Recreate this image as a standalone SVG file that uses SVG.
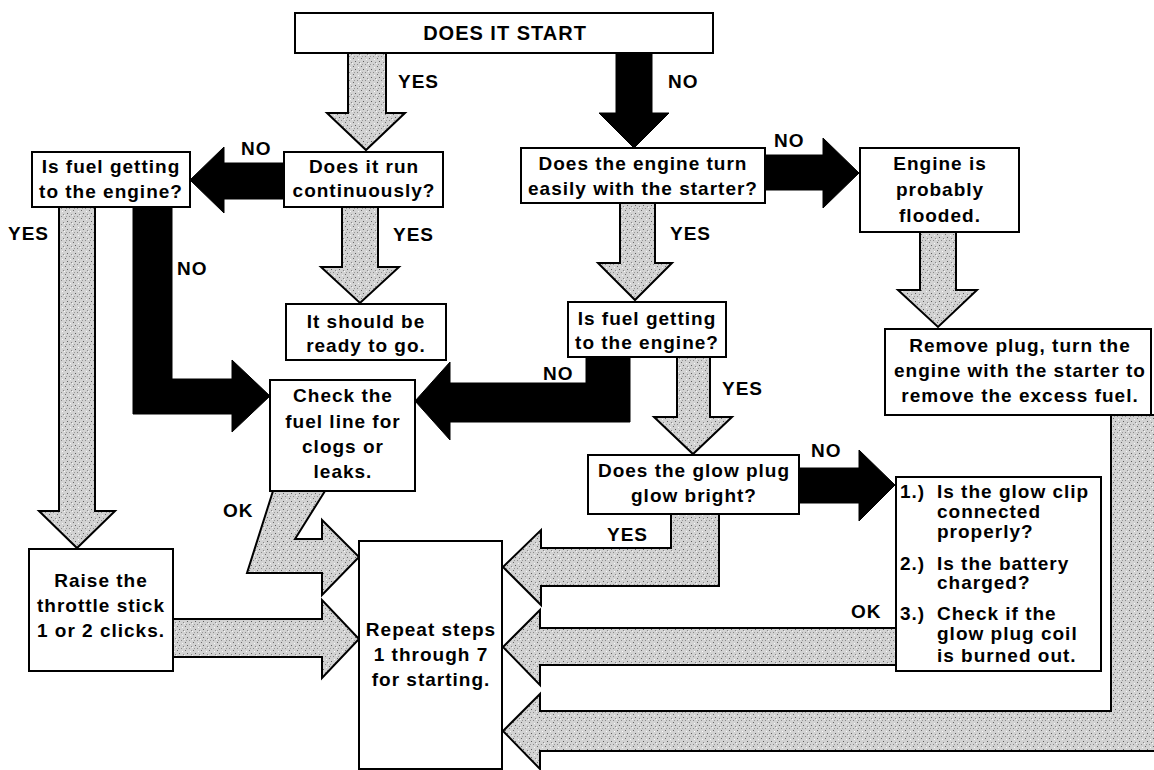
<svg xmlns="http://www.w3.org/2000/svg" width="1154" height="770" viewBox="0 0 1154 770">
<style>
.box{fill:#fff;stroke:#000;stroke-width:2}
.t{font-family:"Liberation Sans",Arial,sans-serif;font-weight:bold;font-size:19px;letter-spacing:1px;fill:#000}
.c{text-anchor:middle}
.blk{fill:#000;stroke:#000;stroke-width:1}
.gry{fill:url(#stip);stroke:#000;stroke-width:2;stroke-linejoin:miter}
</style>
<defs>
<pattern id="stip" width="8" height="8" patternUnits="userSpaceOnUse">
<rect width="8" height="8" fill="#d2d2d2"/>
<rect x="1" y="2" width="1" height="1" fill="#6a6a6a"/>
<rect x="5" y="0" width="1" height="1" fill="#8a8a8a"/>
<rect x="3" y="5" width="1" height="1" fill="#5e5e5e"/>
<rect x="7" y="6" width="1" height="1" fill="#888"/>
<rect x="6" y="3" width="1" height="1" fill="#fafafa"/>
<rect x="0" y="7" width="1" height="1" fill="#f4f4f4"/>
<rect x="2" y="0" width="1" height="1" fill="#9a9a9a"/>
</pattern>
</defs>
<rect width="1154" height="770" fill="#fff"/>

<g id="connectors">
<!-- YES from start -->
<polygon class="gry" points="348,53 386,53 386,113 405,113 366,150 327,113 348,113"/>
<!-- NO from start -->
<polygon class="blk" points="616,53 652,53 652,113 669,113 634,148 599,113 616,113"/>
<!-- NO run -> fuel left -->
<polygon class="blk" points="284,163 224,163 224,147 190,180 224,213 224,199 284,199"/>
<!-- YES run -> ready -->
<polygon class="gry" points="342,207 378,207 378,267 399,267 360,303 321,267 342,267"/>
<!-- YES fuel left -> raise -->
<polygon class="gry" points="59,207 95,207 95,511 115,511 77,548 39,511 59,511"/>
<!-- NO fuel left -> check -->
<polygon class="blk" points="133,207 172,207 172,379 232,379 232,360 270,396 232,432 232,414 133,414"/>
<!-- NO engine -> flooded -->
<polygon class="blk" points="765,155 823,155 823,138 859,173 823,208 823,190 765,190"/>
<!-- YES engine -> fuel mid -->
<polygon class="gry" points="620,203 655,203 655,263 672,263 635,300 598,263 620,263"/>
<!-- flooded -> remove -->
<polygon class="gry" points="920,232 956,232 956,290 977,290 938,327 898,290 920,290"/>
<!-- NO fuel mid -> check -->
<polygon class="blk" points="586,357 630,357 630,422 450,422 450,440 415,401 450,362 450,383 586,383"/>
<!-- YES fuel mid -> glow -->
<polygon class="gry" points="677,357 710,357 710,417 732,417 693,454 654,417 677,417"/>
<!-- NO glow -> checklist -->
<polygon class="blk" points="799,468 859,468 859,450 895,485 859,521 859,503 799,503"/>
<!-- YES glow -> repeat -->
<polygon class="gry" points="671,514 719,514 719,586 541,586 541,605 503,567 541,530 541,548 671,548"/>
<!-- OK checklist -> repeat -->
<polygon class="gry" points="896,628 896,665 540,665 540,685 503,647 540,610 540,628"/>
<!-- remove -> repeat (bottom pipe) -->
<polygon class="gry" points="1111,415 1160,415 1160,751 540,751 540,769 503,731 540,694 540,711 1111,711"/>
<!-- raise -> repeat -->
<polygon class="gry" points="173,619 322,619 322,600 359,639 322,678 322,657 173,657"/>
<!-- OK check -> repeat -->
<polygon class="gry" points="273,491 325,491 295,539 322,539 322,520 359,557 322,595 322,573 247,573"/>
<text class="t" x="398" y="88">YES</text>
<text class="t" x="668" y="88">NO</text>
<text class="t" x="241" y="155">NO</text>
<text class="t" x="774" y="147">NO</text>
<text class="t" x="8" y="240">YES</text>
<text class="t" x="393" y="241">YES</text>
<text class="t" x="670" y="240">YES</text>
<text class="t" x="177" y="275">NO</text>
<text class="t" x="543" y="380">NO</text>
<text class="t" x="722" y="395">YES</text>
<text class="t" x="811" y="457">NO</text>
<text class="t" x="223" y="517">OK</text>
<text class="t" x="607" y="541">YES</text>
<text class="t" x="851" y="618">OK</text>
</g>

<g id="start">
<rect class="box" x="295" y="13" width="418" height="40"/>
<text class="t c" x="505" y="40" style="font-size:20px">DOES IT START</text>
</g>
<g id="run">
<rect class="box" x="284" y="152" width="159" height="55"/>
<text class="t c" x="364" y="173">Does it run</text>
<text class="t c" x="364" y="197">continuously?</text>
</g>
<g id="fuel-left">
<rect class="box" x="32" y="152" width="158" height="55"/>
<text class="t c" x="111" y="173">Is fuel getting</text>
<text class="t c" x="111" y="198">to the engine?</text>
</g>
<g id="ready">
<rect class="box" x="286" y="304" width="160" height="56"/>
<text class="t c" x="366" y="328">It should be</text>
<text class="t c" x="366" y="352">ready to go.</text>
</g>
<g id="engine">
<rect class="box" x="521" y="148" width="244" height="55"/>
<text class="t c" x="643" y="170">Does the engine turn</text>
<text class="t c" x="643" y="195">easily with the starter?</text>
</g>
<g id="flooded">
<rect class="box" x="860" y="148" width="159" height="84"/>
<text class="t c" x="940" y="170">Engine is</text>
<text class="t c" x="940" y="196">probably</text>
<text class="t c" x="940" y="222">flooded.</text>
</g>
<g id="fuel-mid">
<rect class="box" x="568" y="302" width="158" height="55"/>
<text class="t c" x="647" y="325">Is fuel getting</text>
<text class="t c" x="647" y="349">to the engine?</text>
</g>
<g id="remove">
<rect class="box" x="885" y="329" width="266" height="86"/>
<text class="t c" x="1020" y="352">Remove plug, turn the</text>
<text class="t c" x="1020" y="377">engine with the starter to</text>
<text class="t c" x="1020" y="402">remove the excess fuel.</text>
</g>
<g id="check">
<rect class="box" x="270" y="380" width="145" height="111"/>
<text class="t c" x="343" y="402">Check the</text>
<text class="t c" x="343" y="428">fuel line for</text>
<text class="t c" x="343" y="453">clogs or</text>
<text class="t c" x="343" y="478">leaks.</text>
</g>
<g id="glow">
<rect class="box" x="588" y="455" width="211" height="59"/>
<text class="t c" x="694" y="477">Does the glow plug</text>
<text class="t c" x="694" y="502">glow bright?</text>
</g>
<g id="checklist">
<rect class="box" x="896" y="477" width="205" height="194"/>
<text class="t" x="900" y="498">1.)</text>
<text class="t" x="937" y="498">Is the glow clip</text>
<text class="t" x="937" y="518">connected</text>
<text class="t" x="937" y="538">properly?</text>
<text class="t" x="900" y="570">2.)</text>
<text class="t" x="937" y="570">Is the battery</text>
<text class="t" x="937" y="589">charged?</text>
<text class="t" x="900" y="620">3.)</text>
<text class="t" x="937" y="620">Check if the</text>
<text class="t" x="937" y="640">glow plug coil</text>
<text class="t" x="937" y="662">is burned out.</text>
</g>
<g id="raise">
<rect class="box" x="29" y="549" width="144" height="122"/>
<text class="t c" x="101" y="587">Raise the</text>
<text class="t c" x="101" y="612">throttle stick</text>
<text class="t c" x="101" y="637">1 or 2 clicks.</text>
</g>
<g id="repeat">
<rect class="box" x="359" y="541" width="143" height="228"/>
<text class="t c" x="431" y="636">Repeat steps</text>
<text class="t c" x="431" y="661">1 through 7</text>
<text class="t c" x="431" y="686">for starting.</text>
</g>
</svg>
